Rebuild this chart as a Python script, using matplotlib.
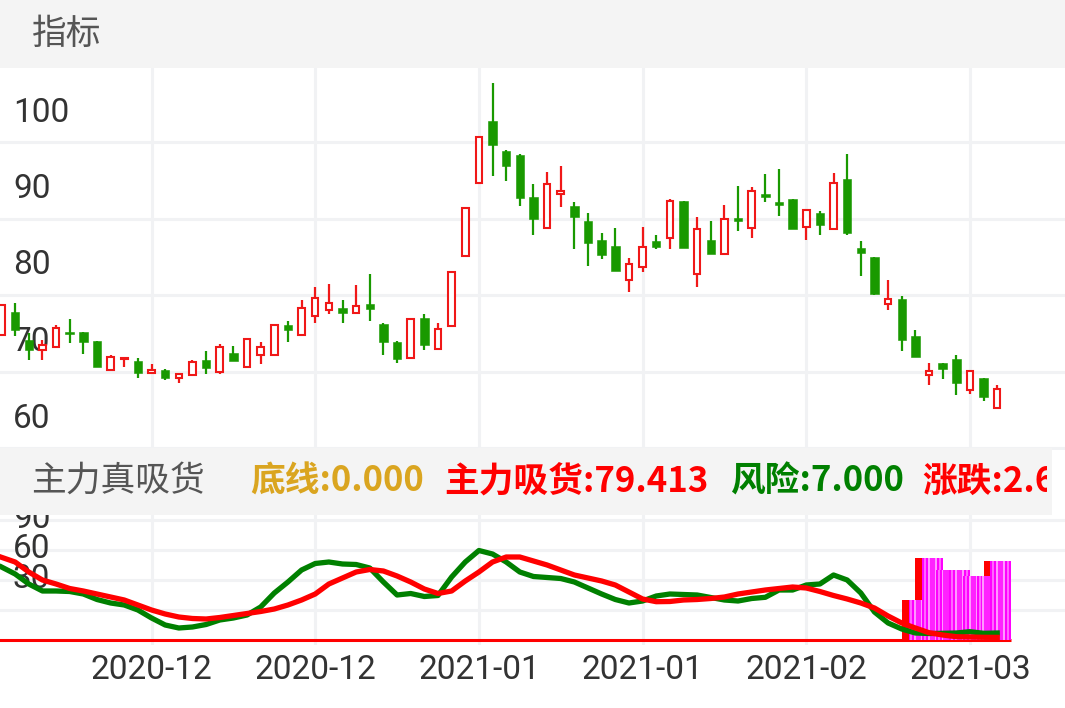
import matplotlib
matplotlib.use('Agg')
import matplotlib.pyplot as plt
from matplotlib.patches import Rectangle
import numpy as np

W, H = 1065, 708

# candle data
opens = [74.8, 77.8, 74.1, 72.8, 73.2, 75.2, 75.2, 74.0, 70.2, 71.6,
         71.4, 69.8, 70.2, 69.1, 69.5, 71.5, 70.0, 72.4, 70.6, 72.2,
         72.2, 76.1, 74.8, 77.2, 78.0, 78.3, 77.7, 78.8, 76.2, 73.8,
         71.8, 77.0, 72.9, 75.9, 85.1, 94.7, 102.7, 98.8, 98.3, 92.8,
         88.7, 93.2, 91.6, 89.7, 87.2, 86.4, 82.0, 83.6, 87.1, 87.4,
         92.3, 82.8, 87.2, 85.4, 90.1, 88.8, 93.2, 92.1, 92.5, 88.9,
         90.7, 88.6, 95.1, 86.2, 85.0, 78.8, 79.5, 74.7, 69.5, 71.1,
         71.6, 67.6, 69.1, 65.2]
highs = [78.7, 78.9, 75.0, 74.1, 76.1, 76.9, 75.2, 74.0, 72.2, 71.9,
         71.7, 71.0, 70.3, 69.7, 71.5, 72.7, 73.6, 73.3, 74.2, 73.9,
         76.1, 76.6, 79.3, 81.0, 81.4, 79.3, 81.3, 82.8, 76.4, 74.0,
         76.8, 77.5, 76.4, 83.0, 91.4, 100.6, 107.7, 99.0, 98.4, 94.5,
         96.1, 96.9, 92.1, 90.7, 88.1, 88.8, 84.9, 88.9, 87.8, 92.6,
         92.3, 90.2, 89.7, 91.8, 94.2, 94.1, 95.8, 96.5, 92.6, 91.1,
         91.0, 95.9, 98.4, 87.0, 85.0, 82.0, 79.9, 75.4, 71.1, 71.1,
         72.2, 70.1, 69.1, 68.3]
lows = [74.8, 74.7, 71.5, 71.5, 73.2, 73.7, 72.3, 70.6, 70.2, 70.6,
        69.2, 69.8, 68.9, 68.5, 69.5, 69.7, 69.7, 71.4, 70.6, 71.0,
        72.2, 73.9, 74.8, 76.4, 77.5, 76.3, 77.7, 76.6, 72.2, 71.1,
        71.8, 72.8, 72.9, 75.9, 85.1, 94.5, 95.5, 94.9, 91.6, 87.8,
        88.7, 91.5, 86.0, 83.8, 84.7, 83.1, 80.4, 83.0, 86.0, 86.0,
        86.2, 81.0, 85.3, 85.4, 88.4, 87.5, 92.2, 90.3, 88.6, 87.2,
        87.8, 88.5, 87.9, 82.5, 80.0, 78.1, 72.7, 71.9, 68.3, 69.0,
        66.9, 67.1, 66.1, 65.2]
closes = [78.7, 75.4, 72.8, 73.5, 75.7, 74.9, 73.9, 70.6, 71.9, 71.8,
          69.8, 70.2, 69.1, 69.7, 71.3, 70.5, 73.2, 71.4, 74.2, 73.2,
          76.1, 75.4, 78.3, 79.6, 78.9, 77.7, 78.6, 78.2, 73.8, 71.6,
          76.8, 73.5, 75.6, 83.0, 91.4, 100.6, 99.6, 96.9, 92.7, 89.9,
          94.5, 93.6, 90.2, 86.8, 85.2, 83.1, 84.1, 86.3, 86.3, 92.3,
          86.2, 88.6, 85.3, 90.0, 89.7, 93.6, 92.8, 91.7, 88.6, 91.1,
          89.1, 94.6, 88.1, 85.5, 80.1, 79.5, 74.1, 71.9, 70.1, 70.3,
          68.5, 70.1, 66.7, 67.7]

# indicator panel
zhuli = [0, 0, 0, 0, 0, 0, 0, 0, 0, 0,
         0, 0, 0, 0, 0, 0, 0, 0, 0, 0,
         0, 0, 0, 0, 0, 0, 0, 0, 0, 0,
         0, 0, 0, 0, 0, 0, 0, 0, 0, 0,
         0, 0, 0, 0, 0, 0, 0, 0, 0, 0,
         0, 0, 0, 0, 0, 0, 0, 0, 0, 0,
         0, 0, 0, 0, 0, 0, 0, 40, 82, 70,
         70, 64, 64, 79.413]
fengxian = [73, 66, 56, 49, 49, 48.5, 46, 40.5, 37, 35,
            30, 22, 15, 12, 13, 15.5, 20, 22, 25, 33,
            47, 58, 70, 76.5, 78, 76, 75.5, 72, 58, 45,
            46.5, 43.5, 44.5, 63, 78, 89.5, 86, 78, 68, 63.5,
            62.5, 61.5, 58, 52, 46, 40.5, 37, 39, 44, 46,
            45.5, 45, 42.5, 40, 39, 41.5, 42.7, 50, 50, 55,
            56, 65, 60, 47, 28, 17, 11, 7, 6.5, 6.7,
            7, 8.3, 6.7, 7.0]
zhangdie = [82.7, 78, 68, 60, 56, 51.5, 49, 46, 43, 40,
            35, 30, 26, 23, 21.5, 21, 22.5, 24.5, 26.5, 28.5,
            31, 35, 40, 46, 56, 62, 68, 70.5, 69, 64,
            58, 51, 46.5, 49, 59, 68, 78, 83, 83, 79,
            75, 70, 65, 62, 59, 55, 48, 41, 38.3, 38.5,
            40, 40.5, 41.5, 43, 46, 48, 50, 51.5, 53, 52,
            48.5, 44.5, 41, 37, 32, 24, 17, 12, 7.3, 5,
            3.3, 3.0, 2.7, 2.64]
dixian = 0.0

date_idx = [11, 23, 35, 47, 59, 71]
date_labels = ['2020-12', '2020-12', '2021-01', '2021-01', '2021-02', '2021-03']
price_ticks = [60, 70, 80, 90, 100]
ind_ticks = [30, 60, 90]

RED = '#F01818'
GREEN = '#199900'
GRID = '#F1F2F4'
BAND = '#F4F4F4'
TXT = '#333333'
CJK = ['Noto Sans CJK SC', 'DejaVu Sans']


def px_box(x0, y0, x1, y1):
    return [x0 / W, 1 - y1 / H, (x1 - x0) / W, (y1 - y0) / H]


fig = plt.figure(figsize=(W / 100, H / 100), dpi=100)
fig.patch.set_facecolor('white')

n = len(opens)
idx = np.arange(n)
step = 13.64          # pixels per candle
x_first = 1.5         # pixel of first candle
xlim = (-x_first / step, (W - x_first) / step)

# ---- candles ----
ppu = 7.65            # pixels per price unit
ax = fig.add_axes(px_box(0, 68, W, 450))
ax.set_xlim(*xlim)
ax.set_ylim(60 - 2 / ppu, 60 + (448 - 68) / ppu)
for i in range(n):
    o, h, l, c = opens[i], highs[i], lows[i], closes[i]
    up = c >= o
    col = RED if up else GREEN
    ax.vlines(i, l, h, color=col, lw=1.6, zorder=3)
    if up:
        ax.add_patch(Rectangle((i - 0.24, o), 0.48, c - o, facecolor='white',
                               edgecolor=col, lw=1.5, zorder=4))
    else:
        ax.add_patch(Rectangle((i - 0.31, c), 0.62, o - c, facecolor=col,
                               edgecolor=col, lw=0.4, zorder=4))
ax.set_yticks(price_ticks)
ax.set_xticks(date_idx)
ax.grid(True, color=GRID, lw=2.2)
ax.set_axisbelow(True)
ax.tick_params(left=False, bottom=False, labelleft=False, labelbottom=False)
for s in ax.spines.values():
    s.set_visible(False)
for v in price_ticks:
    ax.annotate(str(v), xy=(0, v), xycoords=('axes fraction', 'data'),
                xytext=(13, 20.5), textcoords='offset pixels', ha='left',
                va='baseline', fontsize=24, family='Roboto', color=TXT,
                zorder=1, annotation_clip=False)

# ---- indicator panel ----
bx = fig.add_axes(px_box(0, 515, W, 645))
bx.set_xlim(*xlim)
bx.set_ylim(-5, 125)
bx.hlines(dixian, idx[0] - 1, idx[-1] + 1, color='#FF0000', lw=2.2, zorder=3)
shades = ['#FF00FF', '#FF66FF', '#FF00FF', '#FF99FF', '#FF22FF']
# red sticks first, gradient sticks over them
for i in range(n):
    if zhuli[i] > 0:
        bx.add_patch(Rectangle((i - 1, 0), 2, zhuli[i], facecolor='#FF0000',
                               lw=0, zorder=3))
for i in range(n):
    v = zhuli[i]
    if v <= 0:
        continue
    for k, sc in enumerate(shades):
        hw = 0.75 - 0.14 * k
        bx.add_patch(Rectangle((i + 0.25 - hw, 0), 2 * hw, v, facecolor=sc,
                               lw=0, zorder=3.5))
bx.plot(idx, fengxian, color='#008000', lw=3.8, zorder=5)
bx.plot(idx, zhangdie, color='#FF0000', lw=3.8, zorder=6)
bx.set_yticks([30, 60, 90, 120])
bx.set_xticks(date_idx)
bx.set_xticklabels(date_labels)
bx.grid(True, color=GRID, lw=2.2)
bx.set_axisbelow(True)
bx.tick_params(left=False, bottom=False, labelleft=False, pad=3,
               labelsize=24, labelcolor=TXT)
for lab in bx.get_xticklabels():
    lab.set_family('Roboto')
for s in bx.spines.values():
    s.set_visible(False)
for v in ind_ticks:
    bx.annotate(str(v), xy=(0, v), xycoords=('axes fraction', 'data'),
                xytext=(13, 21.5), textcoords='offset pixels', ha='left',
                va='baseline', fontsize=24, family='Roboto', color=TXT,
                zorder=1, annotation_clip=False)

# ---- header bands ----
fig.patches.append(Rectangle((0, 1 - 68 / H), 1, 68 / H, transform=fig.transFigure,
                             facecolor=BAND, lw=0, zorder=1))
fig.patches.append(Rectangle((0, 1 - 515 / H), 1052 / W, 67 / H,
                             transform=fig.transFigure, facecolor=BAND, lw=0,
                             zorder=1))

fig.text(32 / W, 1 - 34 / H, '指标', family=CJK, fontsize=25, color='#555555',
         va='center', ha='left')
yh = 1 - 481 / H
fig.text(31 / W, yh, '主力真吸货', family=CJK, fontsize=25, color='#555555',
         va='center', ha='left')
fig.text(250 / W, yh, f'底线:{dixian:.3f}', family=CJK, fontsize=25,
         fontweight='bold', color='#DAA520', va='center', ha='left')
fig.text(444 / W, yh, f'主力吸货:{zhuli[-1]:.3f}', family=CJK, fontsize=25,
         fontweight='bold', color='#FF0000', va='center', ha='left')
fig.text(730 / W, yh, f'风险:{fengxian[-1]:.3f}', family=CJK, fontsize=25,
         fontweight='bold', color='#008000', va='center', ha='left')
t = fig.text(922 / W, yh, f'涨跌:{zhangdie[-1]:.3f}', family=CJK, fontsize=25,
             fontweight='bold', color='#FF0000', va='center', ha='left')
clip = Rectangle((0, 0), 1047 / W, 1, transform=fig.transFigure)
t.set_clip_path(clip)

fig.savefig('out.png', dpi=100, facecolor='white')
